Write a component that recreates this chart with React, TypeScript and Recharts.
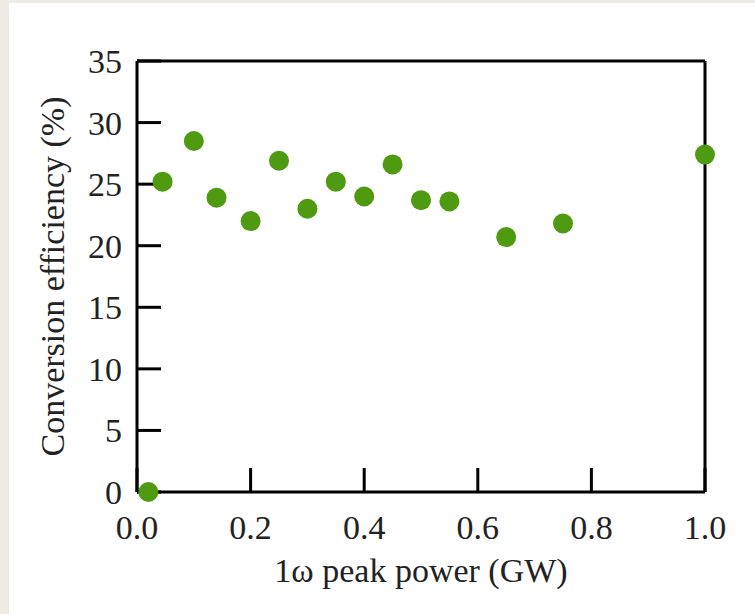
import React from 'react';
import { ScatterChart, Scatter, XAxis, YAxis, Label } from 'recharts';

// Peak power (GW) of each shot
const peakPower = [0.02, 0.045, 0.1, 0.14, 0.2, 0.25, 0.3, 0.35, 0.4, 0.45, 0.5, 0.55, 0.65, 0.75, 1.0];
// Conversion efficiency (%) of each shot
const efficiency = [0, 25.2, 28.5, 23.9, 22.0, 26.9, 23.0, 25.2, 24.0, 26.6, 23.7, 23.6, 20.7, 21.8, 27.4];

const xTicks = [0, 0.2, 0.4, 0.6, 0.8, 1.0];
const yTicks = [0, 5, 10, 15, 20, 25, 30, 35];

const FONT = '"Liberation Serif", "DejaVu Serif", serif';
const DOT = '#4e9a10';

const data = peakPower.map((x, i) => ({ x, y: efficiency[i] }));

const tickStyle = { fontFamily: FONT, fontSize: 34, fill: '#222' };
const lineStyle = { stroke: '#000', strokeWidth: 3 };

// Green filled dot
const renderDot = (p: any) => <circle cx={p.cx} cy={p.cy} r={10} fill={DOT} />;

const App: React.FC = () => {
  return (
    <div style={{ position: 'absolute', left: 0, top: 0, width: 755, height: 614, background: '#efece5' }}>
      <div style={{ position: 'absolute', left: 9, top: 3, right: 0, bottom: 0, background: '#fff' }} />
      <div style={{ position: 'absolute', left: 0, top: 0 }}>
        <ScatterChart width={755} height={614} margin={{ top: 60, right: 49, bottom: 121, left: 136 }}>
          <XAxis
            dataKey="x"
            type="number"
            domain={[0, 1]}
            ticks={xTicks}
            height={1}
            tickFormatter={(v: number) => v.toFixed(1)}
            tick={tickStyle}
            tickSize={-24}
            tickMargin={47}
            axisLine={lineStyle}
            tickLine={lineStyle}
          >
            <Label
              content={(props: any) => {
                const vb = props.viewBox;
                return (
                  <text x={vb.x + vb.width / 2} y={582} textAnchor="middle" fontFamily={FONT} fontSize={34} fill="#222">
                    1ω peak power (GW)
                  </text>
                );
              }}
            />
          </XAxis>
          <XAxis
            xAxisId="top"
            orientation="top"
            type="number"
            domain={[0, 1]}
            ticks={xTicks}
            height={1}
            tick={false}
            tickSize={-24}
            axisLine={lineStyle}
            tickLine={lineStyle}
          />
          <YAxis
            dataKey="y"
            type="number"
            domain={[0, 35]}
            ticks={yTicks}
            width={1}
            tick={tickStyle}
            tickSize={-24}
            tickMargin={39}
            axisLine={lineStyle}
            tickLine={lineStyle}
          >
            <Label
              content={(props: any) => {
                const vb = props.viewBox;
                const cy = vb.y + vb.height / 2;
                return (
                  <text
                    x={52}
                    y={cy}
                    transform={`rotate(-90 52 ${cy})`}
                    textAnchor="middle"
                    dominantBaseline="central"
                    fontFamily={FONT}
                    fontSize={34}
                    fill="#222"
                  >
                    Conversion efficiency (%)
                  </text>
                );
              }}
            />
          </YAxis>
          <YAxis
            yAxisId="right"
            orientation="right"
            type="number"
            domain={[0, 35]}
            ticks={yTicks}
            width={1}
            tick={false}
            tickSize={-24}
            axisLine={lineStyle}
            tickLine={lineStyle}
          />
          <Scatter data={data} shape={renderDot} isAnimationActive={false} />
        </ScatterChart>
      </div>
    </div>
  );
};

export default App;
